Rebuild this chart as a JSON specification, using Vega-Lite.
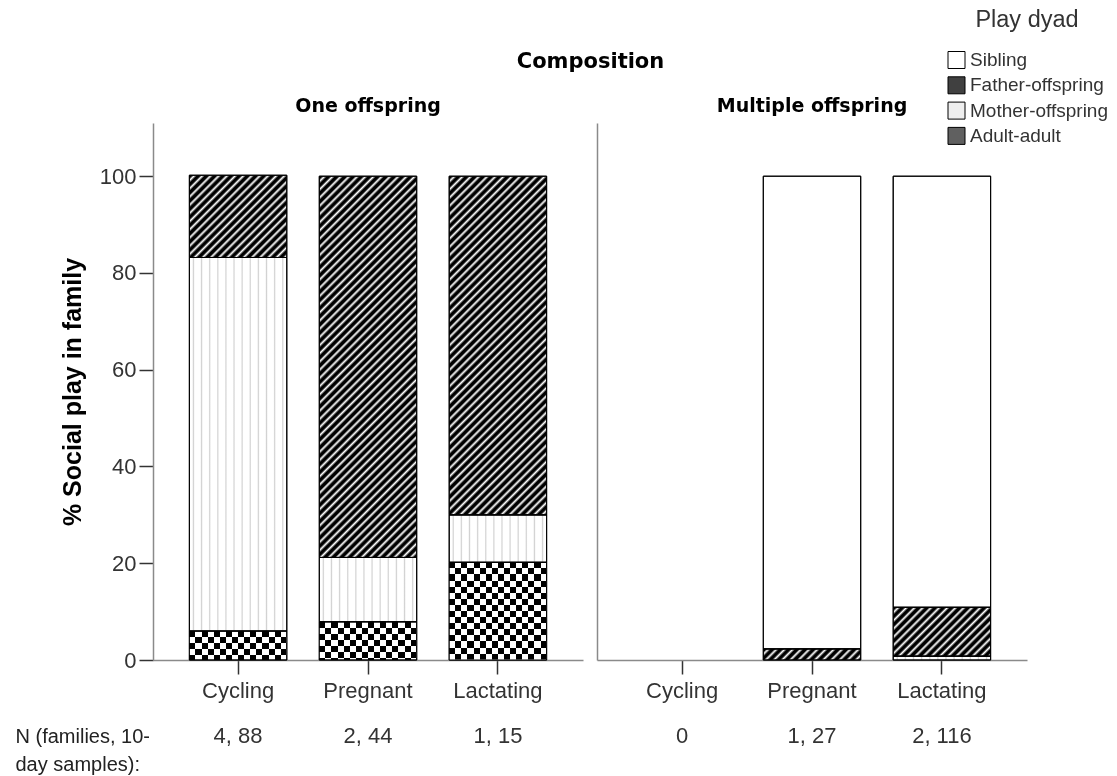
{
  "$schema": "https://vega.github.io/schema/vega-lite/v6.json",
  "background": "white",
  "padding": {"left": 15, "top": 8, "right": 5, "bottom": 5},
  "autosize": {"type": "pad"},
  "title": {"text": "Composition", "font": "DejaVu Sans", "fontSize": 21, "fontWeight": "bold", "color": "#000", "anchor": "middle", "offset": -64, "dx": 29},
  "params": [
    {"name": "hst", "value": [
      {"offset": 0, "color": "#000"}, {"offset": 0.0058, "color": "#000"}, {"offset": 0.0108, "color": "#fff"},
      {"offset": 0.0167, "color": "#000"}, {"offset": 0.0225, "color": "#000"}, {"offset": 0.0275, "color": "#fff"},
      {"offset": 0.0333, "color": "#000"}, {"offset": 0.0392, "color": "#000"}, {"offset": 0.0442, "color": "#fff"},
      {"offset": 0.05, "color": "#000"}, {"offset": 0.0558, "color": "#000"}, {"offset": 0.0608, "color": "#fff"},
      {"offset": 0.0667, "color": "#000"}, {"offset": 0.0725, "color": "#000"}, {"offset": 0.0775, "color": "#fff"},
      {"offset": 0.0833, "color": "#000"}, {"offset": 0.0892, "color": "#000"}, {"offset": 0.0942, "color": "#fff"},
      {"offset": 0.1, "color": "#000"}, {"offset": 0.1058, "color": "#000"}, {"offset": 0.1108, "color": "#fff"},
      {"offset": 0.1167, "color": "#000"}, {"offset": 0.1225, "color": "#000"}, {"offset": 0.1275, "color": "#fff"},
      {"offset": 0.1333, "color": "#000"}, {"offset": 0.1392, "color": "#000"}, {"offset": 0.1442, "color": "#fff"},
      {"offset": 0.15, "color": "#000"}, {"offset": 0.1558, "color": "#000"}, {"offset": 0.1608, "color": "#fff"},
      {"offset": 0.1667, "color": "#000"}, {"offset": 0.1725, "color": "#000"}, {"offset": 0.1775, "color": "#fff"},
      {"offset": 0.1833, "color": "#000"}, {"offset": 0.1892, "color": "#000"}, {"offset": 0.1942, "color": "#fff"},
      {"offset": 0.2, "color": "#000"}, {"offset": 0.2058, "color": "#000"}, {"offset": 0.2108, "color": "#fff"},
      {"offset": 0.2167, "color": "#000"}, {"offset": 0.2225, "color": "#000"}, {"offset": 0.2275, "color": "#fff"},
      {"offset": 0.2333, "color": "#000"}, {"offset": 0.2392, "color": "#000"}, {"offset": 0.2442, "color": "#fff"},
      {"offset": 0.25, "color": "#000"}, {"offset": 0.2558, "color": "#000"}, {"offset": 0.2608, "color": "#fff"},
      {"offset": 0.2667, "color": "#000"}, {"offset": 0.2725, "color": "#000"}, {"offset": 0.2775, "color": "#fff"},
      {"offset": 0.2833, "color": "#000"}, {"offset": 0.2892, "color": "#000"}, {"offset": 0.2942, "color": "#fff"},
      {"offset": 0.3, "color": "#000"}, {"offset": 0.3058, "color": "#000"}, {"offset": 0.3108, "color": "#fff"},
      {"offset": 0.3167, "color": "#000"}, {"offset": 0.3225, "color": "#000"}, {"offset": 0.3275, "color": "#fff"},
      {"offset": 0.3333, "color": "#000"}, {"offset": 0.3392, "color": "#000"}, {"offset": 0.3442, "color": "#fff"},
      {"offset": 0.35, "color": "#000"}, {"offset": 0.3558, "color": "#000"}, {"offset": 0.3608, "color": "#fff"},
      {"offset": 0.3667, "color": "#000"}, {"offset": 0.3725, "color": "#000"}, {"offset": 0.3775, "color": "#fff"},
      {"offset": 0.3833, "color": "#000"}, {"offset": 0.3892, "color": "#000"}, {"offset": 0.3942, "color": "#fff"},
      {"offset": 0.4, "color": "#000"}, {"offset": 0.4058, "color": "#000"}, {"offset": 0.4108, "color": "#fff"},
      {"offset": 0.4167, "color": "#000"}, {"offset": 0.4225, "color": "#000"}, {"offset": 0.4275, "color": "#fff"},
      {"offset": 0.4333, "color": "#000"}, {"offset": 0.4392, "color": "#000"}, {"offset": 0.4442, "color": "#fff"},
      {"offset": 0.45, "color": "#000"}, {"offset": 0.4558, "color": "#000"}, {"offset": 0.4608, "color": "#fff"},
      {"offset": 0.4667, "color": "#000"}, {"offset": 0.4725, "color": "#000"}, {"offset": 0.4775, "color": "#fff"},
      {"offset": 0.4833, "color": "#000"}, {"offset": 0.4892, "color": "#000"}, {"offset": 0.4942, "color": "#fff"},
      {"offset": 0.5, "color": "#000"}, {"offset": 0.5058, "color": "#000"}, {"offset": 0.5108, "color": "#fff"},
      {"offset": 0.5167, "color": "#000"}, {"offset": 0.5225, "color": "#000"}, {"offset": 0.5275, "color": "#fff"},
      {"offset": 0.5333, "color": "#000"}, {"offset": 0.5392, "color": "#000"}, {"offset": 0.5442, "color": "#fff"},
      {"offset": 0.55, "color": "#000"}, {"offset": 0.5558, "color": "#000"}, {"offset": 0.5608, "color": "#fff"},
      {"offset": 0.5667, "color": "#000"}, {"offset": 0.5725, "color": "#000"}, {"offset": 0.5775, "color": "#fff"},
      {"offset": 0.5833, "color": "#000"}, {"offset": 0.5892, "color": "#000"}, {"offset": 0.5942, "color": "#fff"},
      {"offset": 0.6, "color": "#000"}, {"offset": 0.6058, "color": "#000"}, {"offset": 0.6108, "color": "#fff"},
      {"offset": 0.6167, "color": "#000"}, {"offset": 0.6225, "color": "#000"}, {"offset": 0.6275, "color": "#fff"},
      {"offset": 0.6333, "color": "#000"}, {"offset": 0.6392, "color": "#000"}, {"offset": 0.6442, "color": "#fff"},
      {"offset": 0.65, "color": "#000"}, {"offset": 0.6558, "color": "#000"}, {"offset": 0.6608, "color": "#fff"},
      {"offset": 0.6667, "color": "#000"}, {"offset": 0.6725, "color": "#000"}, {"offset": 0.6775, "color": "#fff"},
      {"offset": 0.6833, "color": "#000"}, {"offset": 0.6892, "color": "#000"}, {"offset": 0.6942, "color": "#fff"},
      {"offset": 0.7, "color": "#000"}, {"offset": 0.7058, "color": "#000"}, {"offset": 0.7108, "color": "#fff"},
      {"offset": 0.7167, "color": "#000"}, {"offset": 0.7225, "color": "#000"}, {"offset": 0.7275, "color": "#fff"},
      {"offset": 0.7333, "color": "#000"}, {"offset": 0.7392, "color": "#000"}, {"offset": 0.7442, "color": "#fff"},
      {"offset": 0.75, "color": "#000"}, {"offset": 0.7558, "color": "#000"}, {"offset": 0.7608, "color": "#fff"},
      {"offset": 0.7667, "color": "#000"}, {"offset": 0.7725, "color": "#000"}, {"offset": 0.7775, "color": "#fff"},
      {"offset": 0.7833, "color": "#000"}, {"offset": 0.7892, "color": "#000"}, {"offset": 0.7942, "color": "#fff"},
      {"offset": 0.8, "color": "#000"}, {"offset": 0.8058, "color": "#000"}, {"offset": 0.8108, "color": "#fff"},
      {"offset": 0.8167, "color": "#000"}, {"offset": 0.8225, "color": "#000"}, {"offset": 0.8275, "color": "#fff"},
      {"offset": 0.8333, "color": "#000"}, {"offset": 0.8392, "color": "#000"}, {"offset": 0.8442, "color": "#fff"},
      {"offset": 0.85, "color": "#000"}, {"offset": 0.8558, "color": "#000"}, {"offset": 0.8608, "color": "#fff"},
      {"offset": 0.8667, "color": "#000"}, {"offset": 0.8725, "color": "#000"}, {"offset": 0.8775, "color": "#fff"},
      {"offset": 0.8833, "color": "#000"}, {"offset": 0.8892, "color": "#000"}, {"offset": 0.8942, "color": "#fff"},
      {"offset": 0.9, "color": "#000"}, {"offset": 0.9058, "color": "#000"}, {"offset": 0.9108, "color": "#fff"},
      {"offset": 0.9167, "color": "#000"}, {"offset": 0.9225, "color": "#000"}, {"offset": 0.9275, "color": "#fff"},
      {"offset": 0.9333, "color": "#000"}, {"offset": 0.9392, "color": "#000"}, {"offset": 0.9442, "color": "#fff"},
      {"offset": 0.95, "color": "#000"}, {"offset": 0.9558, "color": "#000"}, {"offset": 0.9608, "color": "#fff"},
      {"offset": 0.9667, "color": "#000"}, {"offset": 0.9725, "color": "#000"}, {"offset": 0.9775, "color": "#fff"},
      {"offset": 0.9833, "color": "#000"}, {"offset": 0.9892, "color": "#000"}, {"offset": 0.9942, "color": "#fff"},
      {"offset": 1, "color": "#000"}
    ]},
    {"name": "vst", "value": [
      {"offset": 0, "color": "#000"}, {"offset": 0.0625, "color": "#000"}, {"offset": 0.0625, "color": "#fff"}, {"offset": 0.125, "color": "#fff"},
      {"offset": 0.125, "color": "#000"}, {"offset": 0.1875, "color": "#000"}, {"offset": 0.1875, "color": "#fff"}, {"offset": 0.25, "color": "#fff"},
      {"offset": 0.25, "color": "#000"}, {"offset": 0.3125, "color": "#000"}, {"offset": 0.3125, "color": "#fff"}, {"offset": 0.375, "color": "#fff"},
      {"offset": 0.375, "color": "#000"}, {"offset": 0.4375, "color": "#000"}, {"offset": 0.4375, "color": "#fff"}, {"offset": 0.5, "color": "#fff"},
      {"offset": 0.5, "color": "#000"}, {"offset": 0.5625, "color": "#000"}, {"offset": 0.5625, "color": "#fff"}, {"offset": 0.625, "color": "#fff"},
      {"offset": 0.625, "color": "#000"}, {"offset": 0.6875, "color": "#000"}, {"offset": 0.6875, "color": "#fff"}, {"offset": 0.75, "color": "#fff"},
      {"offset": 0.75, "color": "#000"}, {"offset": 0.8125, "color": "#000"}, {"offset": 0.8125, "color": "#fff"}, {"offset": 0.875, "color": "#fff"},
      {"offset": 0.875, "color": "#000"}, {"offset": 0.9375, "color": "#000"}, {"offset": 0.9375, "color": "#fff"}, {"offset": 1, "color": "#fff"}
    ]},
    {"name": "mst", "value": [
      {"offset": 0, "color": "#fff"},
      {"offset": 0.0292, "color": "#fff"}, {"offset": 0.0417, "color": "#d2d2d2"}, {"offset": 0.0542, "color": "#fff"},
      {"offset": 0.1125, "color": "#fff"}, {"offset": 0.125, "color": "#d2d2d2"}, {"offset": 0.1375, "color": "#fff"},
      {"offset": 0.1958, "color": "#fff"}, {"offset": 0.2083, "color": "#d2d2d2"}, {"offset": 0.2208, "color": "#fff"},
      {"offset": 0.2792, "color": "#fff"}, {"offset": 0.2917, "color": "#d2d2d2"}, {"offset": 0.3042, "color": "#fff"},
      {"offset": 0.3625, "color": "#fff"}, {"offset": 0.375, "color": "#d2d2d2"}, {"offset": 0.3875, "color": "#fff"},
      {"offset": 0.4458, "color": "#fff"}, {"offset": 0.4583, "color": "#d2d2d2"}, {"offset": 0.4708, "color": "#fff"},
      {"offset": 0.5292, "color": "#fff"}, {"offset": 0.5417, "color": "#d2d2d2"}, {"offset": 0.5542, "color": "#fff"},
      {"offset": 0.6125, "color": "#fff"}, {"offset": 0.625, "color": "#d2d2d2"}, {"offset": 0.6375, "color": "#fff"},
      {"offset": 0.6958, "color": "#fff"}, {"offset": 0.7083, "color": "#d2d2d2"}, {"offset": 0.7208, "color": "#fff"},
      {"offset": 0.7792, "color": "#fff"}, {"offset": 0.7917, "color": "#d2d2d2"}, {"offset": 0.8042, "color": "#fff"},
      {"offset": 0.8625, "color": "#fff"}, {"offset": 0.875, "color": "#d2d2d2"}, {"offset": 0.8875, "color": "#fff"},
      {"offset": 0.9458, "color": "#fff"}, {"offset": 0.9583, "color": "#d2d2d2"}, {"offset": 0.9708, "color": "#fff"},
      {"offset": 1, "color": "#fff"}
    ]}
  ],
  "data": {"values": [
    {"comp": "One offspring", "phase": "Cycling", "dyad": "Adult-adult", "code": 4, "pct": 6.0},
    {"comp": "One offspring", "phase": "Cycling", "dyad": "Mother-offspring", "code": 3, "pct": 77.2},
    {"comp": "One offspring", "phase": "Cycling", "dyad": "Father-offspring", "code": 2, "pct": 17.0},
    {"comp": "One offspring", "phase": "Pregnant", "dyad": "Adult-adult", "code": 4, "pct": 7.9},
    {"comp": "One offspring", "phase": "Pregnant", "dyad": "Mother-offspring", "code": 3, "pct": 13.3},
    {"comp": "One offspring", "phase": "Pregnant", "dyad": "Father-offspring", "code": 2, "pct": 78.8},
    {"comp": "One offspring", "phase": "Lactating", "dyad": "Adult-adult", "code": 4, "pct": 20.2},
    {"comp": "One offspring", "phase": "Lactating", "dyad": "Mother-offspring", "code": 3, "pct": 9.8},
    {"comp": "One offspring", "phase": "Lactating", "dyad": "Father-offspring", "code": 2, "pct": 70.0},
    {"comp": "Multiple offspring", "phase": "Pregnant", "dyad": "Father-offspring", "code": 2, "pct": 2.3},
    {"comp": "Multiple offspring", "phase": "Pregnant", "dyad": "Sibling", "code": 1, "pct": 97.7},
    {"comp": "Multiple offspring", "phase": "Lactating", "dyad": "Mother-offspring", "code": 3, "pct": 0.8},
    {"comp": "Multiple offspring", "phase": "Lactating", "dyad": "Father-offspring", "code": 2, "pct": 10.1},
    {"comp": "Multiple offspring", "phase": "Lactating", "dyad": "Sibling", "code": 1, "pct": 89.1}
  ]},
  "config": {
    "view": {"stroke": null},
    "axis": {"grid": false, "domainColor": "#8a8a8a", "domainWidth": 1.5, "tickColor": "#333", "tickWidth": 1.5, "tickSize": 14,
      "labelFont": "Liberation Sans", "labelFontSize": 22, "labelColor": "#333",
      "titleFont": "Liberation Sans", "titleFontSize": 25, "titleFontWeight": "bold", "titleColor": "#000"},
    "title": {"font": "DejaVu Sans", "fontSize": 19, "fontWeight": "bold", "color": "#000", "offset": 7},
    "legend": {"labelFont": "Liberation Sans", "labelFontSize": 19, "labelColor": "#333", "titleFont": "Liberation Sans", "titleFontSize": 23.5, "titleFontWeight": "normal", "titleColor": "#333"}
  },
  "spacing": 14,
  "resolve": {"scale": {"color": "shared"}},
  "hconcat": [
    {
      "title": {"text": "One offspring"},
      "width": 430, "height": 537,
      "transform": [{"filter": "datum.comp == 'One offspring'"}],
      "encoding": {
        "x": {"field": "phase", "type": "nominal", "sort": ["Cycling", "Pregnant", "Lactating"],
          "scale": {"domain": ["Cycling", "Pregnant", "Lactating"], "paddingInner": 0.25, "paddingOuter": 0.28},
          "axis": {"labelAngle": 0, "labelPadding": 6, "labelLineHeight": 45, "labelBaseline": "top",
            "labelExpr": "datum.label == 'Cycling' ? ['Cycling', '4, 88'] : datum.label == 'Pregnant' ? ['Pregnant', '2, 44'] : ['Lactating', '1, 15']",
            "title": ["N (families, 10-", "day samples):"], "titleFontSize": 20, "titleFontWeight": "normal", "titleColor": "#222",
            "titleAlign": "left", "titleAnchor": "start", "titleBaseline": "top", "titleX": -138, "titleY": 66, "titleLineHeight": 28}},
        "y": {"field": "pct", "type": "quantitative", "stack": "zero",
          "scale": {"domain": [0, 111], "nice": false},
          "axis": {"values": [0, 20, 40, 60, 80, 100], "labelPadding": 3, "title": "% Social play in family", "titlePadding": 14}}
      },
      "layer": [
        {
          "mark": {"type": "bar", "stroke": "#000", "strokeWidth": 1},
          "encoding": {
            "color": {"field": "dyad", "type": "nominal",
              "condition": [
                {"test": "datum.dyad == 'Father-offspring'", "value": {"expr": "{gradient: 'linear', x1: 0, y1: 0, x2: 492 * 97.43 / (9492.6 + pow(datum.pct * 4.8378, 2)), y2: 492 * datum.pct * 4.8378 / (9492.6 + pow(datum.pct * 4.8378, 2)), stops: hst}"}},
                {"test": "datum.dyad == 'Adult-adult'", "value": {"expr": "{gradient: 'linear', x1: 0, y1: 0, x2: 1, y2: 0, stops: vst}"}},
                {"test": "datum.dyad == 'Mother-offspring'", "value": {"expr": "{gradient: 'linear', x1: 0, y1: 0, x2: 1, y2: 0, stops: mst}"}}
              ],
              "scale": {"domain": ["Sibling", "Father-offspring", "Mother-offspring", "Adult-adult"], "range": ["#ffffff", "#404040", "#eeeeee", "#606060"]},
              "legend": {"title": "Play dyad", "orient": "none", "legendX": 794, "legendY": -115, "symbolType": "square", "symbolSize": 289,
                "symbolStrokeColor": "#000", "symbolStrokeWidth": 1, "symbolOpacity": 1, "rowPadding": 4.3, "titlePadding": 19, "titleAnchor": "middle", "labelOffset": 4}},
            "order": {"field": "code", "sort": "descending"}
          }
        },
        {
          "transform": [{"filter": "datum.dyad == 'Adult-adult'"}],
          "mark": {"type": "bar", "blend": "difference", "strokeWidth": 0,
            "fill": {"expr": "{gradient: 'linear', x1: 0, y1: 0, x2: 0, y2: 97.44 / (datum.pct * 4.8378), stops: vst}"}}
        },
        {
          "mark": {"type": "bar", "fill": "transparent", "stroke": "#000", "strokeWidth": 1},
          "encoding": {"detail": {"field": "dyad"}, "order": {"field": "code", "sort": "descending"}}
        }
      ]
    },
    {
      "title": {"text": "Multiple offspring"},
      "width": 430, "height": 537,
      "transform": [{"filter": "datum.comp == 'Multiple offspring'"}],
      "encoding": {
        "x": {"field": "phase", "type": "nominal", "sort": ["Cycling", "Pregnant", "Lactating"],
          "scale": {"domain": ["Cycling", "Pregnant", "Lactating"], "paddingInner": 0.25, "paddingOuter": 0.28},
          "axis": {"labelAngle": 0, "labelPadding": 6, "labelLineHeight": 45, "labelBaseline": "top",
            "labelExpr": "datum.label == 'Cycling' ? ['Cycling', '0'] : datum.label == 'Pregnant' ? ['Pregnant', '1, 27'] : ['Lactating', '2, 116']",
            "title": null}},
        "y": {"field": "pct", "type": "quantitative", "stack": "zero",
          "scale": {"domain": [0, 111], "nice": false},
          "axis": {"labels": false, "ticks": false, "title": null}}
      },
      "layer": [
        {
          "mark": {"type": "bar", "stroke": "#000", "strokeWidth": 1},
          "encoding": {
            "color": {"field": "dyad", "type": "nominal",
              "condition": [
                {"test": "datum.dyad == 'Father-offspring'", "value": {"expr": "{gradient: 'linear', x1: 0, y1: 0, x2: 492 * 97.43 / (9492.6 + pow(datum.pct * 4.8378, 2)), y2: 492 * datum.pct * 4.8378 / (9492.6 + pow(datum.pct * 4.8378, 2)), stops: hst}"}},
                {"test": "datum.dyad == 'Adult-adult'", "value": {"expr": "{gradient: 'linear', x1: 0, y1: 0, x2: 1, y2: 0, stops: vst}"}},
                {"test": "datum.dyad == 'Mother-offspring'", "value": {"expr": "{gradient: 'linear', x1: 0, y1: 0, x2: 1, y2: 0, stops: mst}"}}
              ],
              "scale": {"domain": ["Sibling", "Father-offspring", "Mother-offspring", "Adult-adult"], "range": ["#ffffff", "#404040", "#eeeeee", "#606060"]},
              "legend": null},
            "order": {"field": "code", "sort": "descending"}
          }
        },
        {
          "mark": {"type": "bar", "fill": "transparent", "stroke": "#000", "strokeWidth": 1},
          "encoding": {"detail": {"field": "dyad"}, "order": {"field": "code", "sort": "descending"}}
        }
      ]
    }
  ]
}
